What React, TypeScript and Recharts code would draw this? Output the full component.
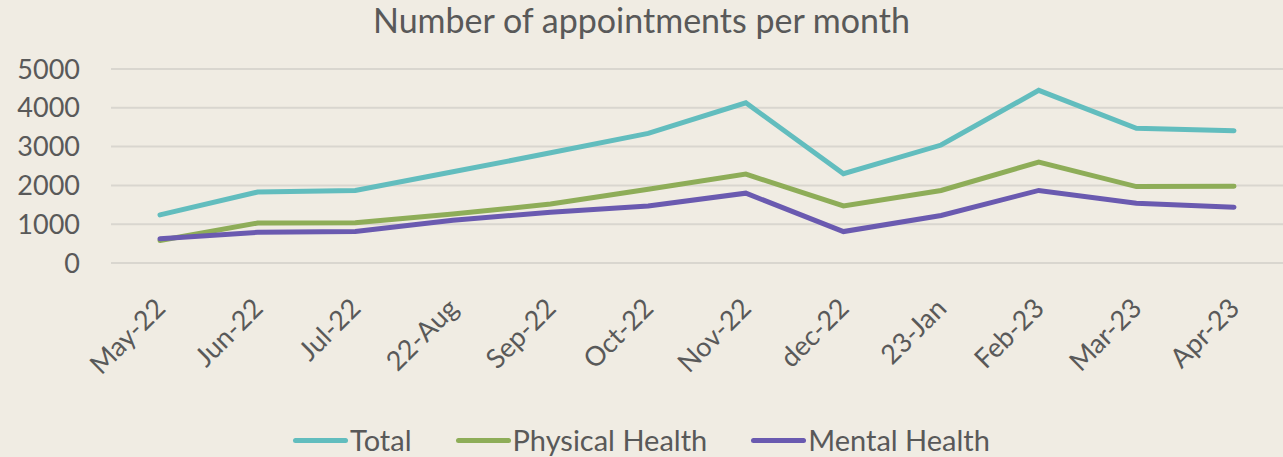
import { LineChart, Line, XAxis, YAxis, CartesianGrid, Legend } from "recharts";

const months = ["May-22", "Jun-22", "Jul-22", "22-Aug", "Sep-22", "Oct-22", "Nov-22", "dec-22", "23-Jan", "Feb-23", "Mar-23", "Apr-23"];
const total = [1240, 1830, 1870, 2350, 2840, 3340, 4130, 2300, 3040, 4450, 3470, 3410];
const physical = [580, 1030, 1040, 1260, 1520, 1900, 2290, 1470, 1870, 2600, 1970, 1980];
const mental = [625, 790, 810, 1100, 1310, 1470, 1800, 810, 1225, 1870, 1540, 1440];
const yTicks = [0, 1000, 2000, 3000, 4000, 5000];
const seriesOrder = ["Total", "Physical Health", "Mental Health"];

const data = months.map((m, i) => ({ month: m, total: total[i], physical: physical[i], mental: mental[i] }));

const FONT = "Lato, 'Open Sans', sans-serif";
const TEXT = "#595959";

function MonthTick({ x, y, payload }: any) {
  return (
    <g transform={`translate(${x + 7},${y + 39}) rotate(-45)`}>
      <text x={0} y={0} textAnchor="end" fontSize={27} fill={TEXT} fontFamily={FONT}>
        {payload.value}
      </text>
    </g>
  );
}

function LegendRow({ payload }: any) {
  const items = [...payload].sort((a: any, b: any) => seriesOrder.indexOf(a.value) - seriesOrder.indexOf(b.value));
  return (
    <div style={{ display: "flex", justifyContent: "center", gap: 44, height: 30, lineHeight: "30px", fontFamily: FONT, fontSize: 29, color: TEXT }}>
      {items.map((p: any) => (
        <div key={p.value} style={{ display: "flex", alignItems: "center" }}>
          <span style={{ display: "inline-block", width: 55, height: 5, borderRadius: 3, background: p.color, marginRight: 2 }} />
          <span>{p.value}</span>
        </div>
      ))}
    </div>
  );
}

export default function App() {
  return (
    <div style={{ position: "absolute", left: 0, top: 0, width: 1283, height: 457, background: "#F0ECE3", overflow: "hidden" }}>
      <div style={{ position: "absolute", left: 0, top: 3, width: 1283, textAlign: "center", lineHeight: 1, fontFamily: FONT, fontSize: 34, color: TEXT }}>
        Number of appointments per month
      </div>
      <LineChart width={1283} height={457} data={data} margin={{ top: 69, right: 0, bottom: 2, left: 0 }}>
        <CartesianGrid vertical={false} stroke="#D9D6CF" strokeWidth={2} />
        <XAxis dataKey="month" axisLine={false} tickLine={false} interval={0} height={162} padding={{ left: 49, right: 49 }} tick={<MonthTick />} />
        <YAxis
          domain={[0, 5000]}
          ticks={yTicks}
          width={111}
          axisLine={false}
          tickLine={false}
          tickSize={0}
          tickMargin={31}
          tick={{ fontSize: 27, fill: TEXT, fontFamily: FONT }}
        />
        <Legend verticalAlign="bottom" content={<LegendRow />} />
        <Line dataKey="total" name="Total" stroke="#62BDBE" strokeWidth={5} dot={false} strokeLinecap="round" isAnimationActive={false} />
        <Line dataKey="physical" name="Physical Health" stroke="#8EAD58" strokeWidth={5} dot={false} strokeLinecap="round" isAnimationActive={false} />
        <Line dataKey="mental" name="Mental Health" stroke="#6A5AB0" strokeWidth={5} dot={false} strokeLinecap="round" isAnimationActive={false} />
      </LineChart>
    </div>
  );
}
